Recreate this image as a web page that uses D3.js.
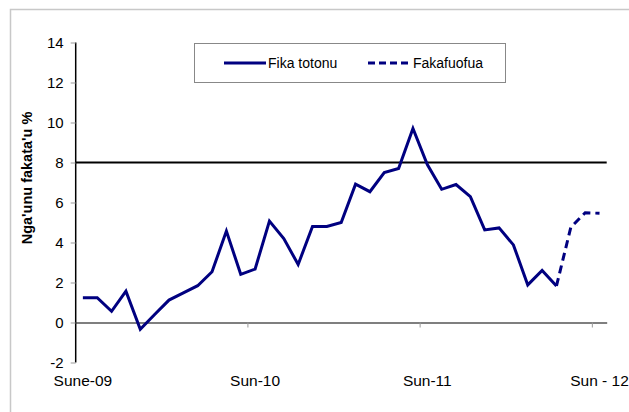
<!DOCTYPE html>
<html><head><meta charset="utf-8">
<script src="https://cdn.jsdelivr.net/npm/d3@7"></script>
<style>body{margin:0;background:#fff;}svg{display:block;font-family:"Liberation Sans",Arial,sans-serif;}</style>
</head><body><svg id="c" width="629" height="412"></svg>
<script>
const months = ["Sune-09","Jul-09","Aug-09","Sep-09","Oct-09","Nov-09","Dec-09","Jan-10","Feb-10","Mar-10","Apr-10","May-10",
  "Sun-10","Jul-10","Aug-10","Sep-10","Oct-10","Nov-10","Dec-10","Jan-11","Feb-11","Mar-11","Apr-11","May-11",
  "Sun-11","Jul-11","Aug-11","Sep-11","Oct-11","Nov-11","Dec-11","Jan-12","Feb-12","Mar-12","Apr-12","May-12","Sun - 12"];
const shownLabels = ["Sune-09","Sun-10","Sun-11","Sun - 12"];
const actual = [1.24,1.24,0.56,1.57,-0.34,0.4,1.12,1.48,1.84,2.54,4.57,2.41,2.67,5.07,4.2,2.9,4.8,4.8,5.0,6.92,6.54,7.5,7.7,9.7,7.9,6.66,6.9,6.29,4.63,4.73,3.88,1.88,2.6,1.83];
const forecastStart = 33;
const forecast = [1.83,4.76,5.49,5.46];
const targetLine = 8;
const yTicks = [-2,0,2,4,6,8,10,12,14];
const seriesNames = ["Fika totonu","Fakafuofua"];
const yTitle = "Nga'unu fakata'u %";

const svg = d3.select("#c");
const navy = "#000080";
// outer chart border (only top and left visible)
svg.append("path").attr("d","M10.5,412 V9.5 H629").attr("fill","none").attr("stroke","#c8c8c8").attr("stroke-width",1.5);

const x = d3.scaleBand().domain(months).range([75.7, 606.7]).padding(0);
const y = d3.scaleLinear().domain([-2,14]).range([362.5, 42.5]);
const cx = d => x(d) + x.bandwidth()/2;

// y axis
const yAxis = d3.axisLeft(y).tickValues(yTicks).tickSize(5).tickPadding(7).tickFormat(d => String(d));
const ga = svg.append("g").attr("transform","translate(75.7,0)").call(yAxis);
ga.select(".domain").attr("stroke","#000").attr("stroke-width",1.5).attr("d",`M0,${y(-2)}V${y(14)}`);
ga.selectAll(".tick line").attr("stroke","#999");
ga.selectAll(".tick text").attr("font-size","15px").attr("fill","#000").attr("font-family","Liberation Sans, Arial, sans-serif");

// x axis line at zero with ticks at category boundaries every 12
const xAxis = d3.axisBottom(x).tickValues([]).tickSizeOuter(0);
const gx = svg.append("g").attr("transform",`translate(0,${y(0)})`).call(xAxis);
gx.select(".domain").attr("stroke","#000").attr("stroke-width",1.2);
[12,24,36].forEach(i=>{
  gx.append("line").attr("x1",x(months[i])).attr("x2",x(months[i])).attr("y1",0).attr("y2",5).attr("stroke","#999");
});
// x labels low position
svg.append("g").selectAll("text").data(shownLabels).join("text")
  .attr("x",d=>cx(d)).attr("y",386).attr("text-anchor","middle").attr("font-size","15.5px").attr("fill","#000").text(d=>d);

// target line
svg.append("line").attr("x1",75.7).attr("x2",606.7).attr("y1",y(targetLine)).attr("y2",y(targetLine)).attr("stroke","#000").attr("stroke-width",2);

// series
const line = d3.line().x(d=>cx(d.m)).y(d=>y(d.v));
const aData = actual.map((v,i)=>({m:months[i],v}));
const fData = forecast.map((v,i)=>({m:months[forecastStart+i],v}));
svg.append("path").datum(aData).attr("d",line).attr("fill","none").attr("stroke",navy).attr("stroke-width",3).attr("stroke-linejoin","miter");
svg.append("path").datum(fData).attr("d",line).attr("fill","none").attr("stroke",navy).attr("stroke-width",3).attr("stroke-dasharray","8,5");

// y title
svg.append("text").attr("transform","translate(32,178) rotate(-90)").attr("text-anchor","middle")
  .attr("font-size","14.5px").attr("font-weight","bold").attr("fill","#000").text(yTitle);

// legend
const lg = svg.append("g");
lg.append("rect").attr("x",194.5).attr("y",43.5).attr("width",311).attr("height",39).attr("fill","#fff").attr("stroke","#888").attr("stroke-width",1);
lg.append("line").attr("x1",224).attr("x2",266).attr("y1",63).attr("y2",63).attr("stroke",navy).attr("stroke-width",3);
lg.append("text").attr("x",268).attr("y",68).attr("font-size","14px").attr("fill","#000").text(seriesNames[0]);
lg.append("line").attr("x1",368).attr("x2",410).attr("y1",63).attr("y2",63).attr("stroke",navy).attr("stroke-width",3).attr("stroke-dasharray","7,4");
lg.append("text").attr("x",413).attr("y",68).attr("font-size","14px").attr("fill","#000").text(seriesNames[1]);
</script></body></html>
